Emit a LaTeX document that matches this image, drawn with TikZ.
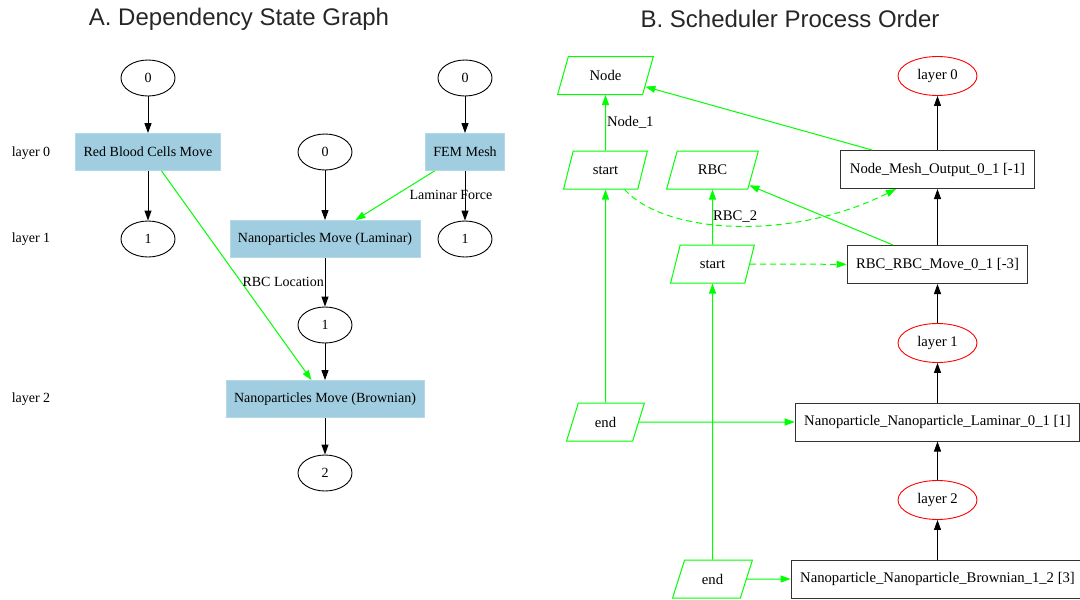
\documentclass[tikz,border=0pt]{standalone}
\usepackage{fontspec}
\setmainfont{Liberation Serif}
\newfontfamily\titlefont{Liberation Sans}
\usetikzlibrary{shapes.geometric,arrows.meta}
\definecolor{gvgreen}{RGB}{0,255,0}
\definecolor{gvred}{RGB}{255,0,0}
\definecolor{gvblue}{RGB}{160,206,224}
\tikzset{
  every node/.style={font=\fontsize{14}{16}\selectfont, inner sep=0pt},
  rfont/.style={font=\fontsize{14.7}{17}\selectfont},
  tip/.style={-{Triangle[length=10pt,width=7pt]}},
  blk/.style={tip, draw=black, line width=1pt},
  grn/.style={tip, draw=gvgreen, line width=1pt},
  dsh/.style={grn, dash pattern=on 6pt off 4pt},
  stateell/.style={ellipse, draw=black, line width=0.9pt, minimum width=54pt, minimum height=36pt},
  layerell/.style={rfont, ellipse, draw=gvred, line width=0.9pt, minimum width=79pt, minimum height=39pt},
  task/.style={rectangle, fill=gvblue, draw=gvblue!80!white, line width=0.8pt, minimum height=37pt, inner xsep=8pt},
  job/.style={rfont, rectangle, draw=black!80, line width=1pt, minimum height=38pt, inner xsep=9pt},
  io/.style={rfont, trapezium, trapezium left angle=66, trapezium right angle=114,
     trapezium stretches=true, draw=gvgreen, line width=1pt, minimum height=38pt},
  lbl/.style={inner sep=1pt},
  ttl/.style={font=\titlefont\fontsize{24}{28}\selectfont, text=black!85}
}
\begin{document}
\begin{tikzpicture}[x=1pt,y=-1pt]
\useasboundingbox (0,0) rectangle (1080,600);

% ---------- A. Dependency State Graph ----------
\node[ttl] (tA) at (239,19) {A. Dependency State Graph};

\node (L0) at (31,153) {layer 0};
\node (L1) at (31,239) {layer 1};
\node (L2) at (31,399) {layer 2};

\node[stateell] (s0a) at (148,78) {0};
\node[stateell] (s0b) at (465,78) {0};
\node[task] (rbcmove) at (148,152) {Red Blood Cells Move};
\node[stateell] (s0c) at (325,152) {0};
\node[task] (fem) at (465,152) {FEM Mesh};
\node[stateell] (s1a) at (148,239) {1};
\node[task] (lam) at (325,239) {Nanoparticles Move (Laminar)};
\node[stateell] (s1b) at (465,239) {1};
\node[stateell] (s1c) at (325,325) {1};
\node[task] (brown) at (325,399) {Nanoparticles Move (Brownian)};
\node[stateell] (s2) at (325,473) {2};

\draw[blk] (s0a) -- (rbcmove);
\draw[blk] (rbcmove) -- (s1a);
\draw[blk] (s0b) -- (fem);
\draw[blk] (fem) -- (s1b);
\draw[blk] (s0c) -- (lam);
\draw[blk] (lam) -- (s1c);
\draw[blk] (s1c) -- (brown);
\draw[blk] (brown) -- (s2);
\draw[grn] (fem) -- node[lbl, pos=0.5, anchor=west, xshift=13pt, yshift=1pt] {Laminar Force} (lam);
\draw[grn] (rbcmove) -- node[lbl, pos=0.53, anchor=west] {RBC Location} (brown);

% ---------- B. Scheduler Process Order ----------
\node[ttl] (tB) at (790,19) {B. Scheduler Process Order};

\node[layerell] (ly0) at (937.5,76) {layer 0};
\node[layerell] (ly1) at (937.5,343) {layer 1};
\node[layerell] (ly2) at (937.5,500) {layer 2};

\node[job] (nmo) at (937.5,169.5) {Node\_Mesh\_Output\_0\_1 [-1]};
\node[job] (rrm) at (937.5,264.5) {RBC\_RBC\_Move\_0\_1 [-3]};
\node[job] (npl) at (937.5,422) {Nanoparticle\_Nanoparticle\_Laminar\_0\_1 [1]};
\node[job] (npb) at (937.5,579) {Nanoparticle\_Nanoparticle\_Brownian\_1\_2 [3]};

\node[io, minimum width=96pt] (nodeP) at (605.5,75.5) {Node};
\node[io, minimum width=84pt] (sL) at (605.5,170) {start};
\node[io, minimum width=92pt] (rbcP) at (712.5,170) {RBC};
\node[io, minimum width=84pt] (sM) at (712.5,264) {start};
\node[io, minimum width=78pt] (eL) at (605.5,422) {end};
\node[io, minimum width=80pt] (eB) at (712.5,579) {end};

% layer chain
\draw[blk] (nmo.north -| ly0) -- (ly0);
\draw[blk] (rrm.north -| nmo) -- (nmo.south -| nmo);
\draw[blk] (ly1) -- (rrm.south -| ly1);
\draw[blk] (npl.north -| ly1) -- (ly1);
\draw[blk] (ly2) -- (npl.south -| ly2);
\draw[blk] (npb.north -| ly2) -- (ly2);

% data flow
\draw[grn] ([xshift=-65.5pt]nmo.north) -- (nodeP);
\draw[grn] (sL) -- node[lbl, rfont, pos=0.5, anchor=west] {Node\_1} (nodeP);
\draw[grn] ([xshift=-44.5pt]rrm.north) -- (rbcP);
\draw[grn] (sM) -- node[lbl, rfont, pos=0.5, anchor=west, inner sep=0pt] {RBC\_2} (rbcP);
\draw[grn] (eL) -- (sL);
\draw[grn] (eB.north -| sM) -- (sM);
\draw[grn] (eL) -- (npl);
\draw[grn] (eB) -- (npb);
\draw[dsh] (sM) -- (rrm);
\draw[dsh] ([xshift=19pt]sL.south) .. controls (665,234) and (790,242) .. ([xshift=-41.5pt]nmo.south);
\end{tikzpicture}
\end{document}
